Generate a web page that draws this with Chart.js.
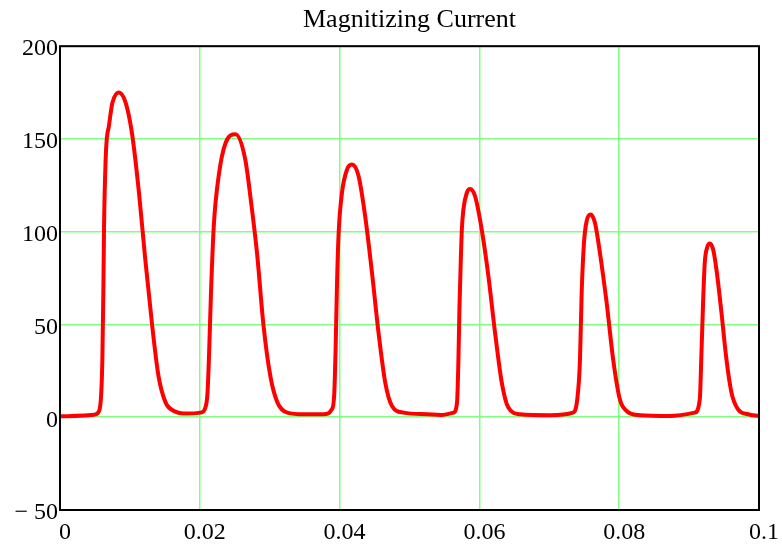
<!DOCTYPE html>
<html>
<head>
<meta charset="utf-8">
<script src="https://cdn.jsdelivr.net/npm/chart.js@4.4.1/dist/chart.umd.min.js"></script>
<style>
  html, body { margin: 0; padding: 0; background: #fff; }
  #wrap { width: 782px; height: 551px; }
</style>
</head>
<body>
<div id="wrap"><canvas id="chart" width="782" height="551"></canvas></div>
<script>
// time in seconds
const timeS = [
  0, 0.0049, 0.0056, 0.0059, 0.00606, 0.0062, 0.0063, 0.00653, 0.00669, 0.0070, 0.00725, 0.0075,
  0.0084, 0.0094, 0.0103, 0.0113, 0.0122, 0.0132, 0.0141, 0.0151, 0.0163, 0.0182, 0.0201, 0.0208,
  0.0211, 0.0213, 0.0216, 0.0220, 0.0227, 0.0237, 0.0251, 0.0265, 0.0273, 0.0282, 0.0291,
  0.0301, 0.0311, 0.0325, 0.0349, 0.0377, 0.0389,
  0.03924, 0.03943, 0.03963, 0.03986, 0.04034, 0.04106, 0.04177, 0.04271, 0.04367, 0.04463,
  0.04557, 0.04653, 0.04749, 0.04914, 0.0525, 0.0545, 0.0563, 0.0568,
  0.0570, 0.05714, 0.05734, 0.0575, 0.05771, 0.0582, 0.05867, 0.05939, 0.06034, 0.06129, 0.06224,
  0.0632, 0.06414, 0.0658, 0.0701, 0.0734, 0.0740,
  0.07439, 0.07463, 0.07496, 0.07534, 0.07591, 0.07653, 0.07724, 0.0782, 0.07914, 0.0801,
  0.08106, 0.08296, 0.08724, 0.09081, 0.09153,
  0.09177, 0.092, 0.09224, 0.09257, 0.09296, 0.09343, 0.09391, 0.09463, 0.09534, 0.09606,
  0.097, 0.09843, 0.1
];
// magnetizing current
const currentA = [
  0.5, 1.4, 3.4, 13, 31, 67, 103, 139, 150, 157, 164, 169.5,
  175, 169.5, 153, 121, 85, 49, 22, 8, 3.4, 2, 2.5, 5.2,
  13, 31, 67, 103, 130, 148, 152.5, 139, 117, 88, 50,
  22, 8, 2.5, 1.6, 1.6, 4.3,
  13, 37, 72, 99, 121, 133.5, 136.2, 130, 108, 78,
  45.6, 18.7, 6.1, 2.5, 1.6, 1.2, 2.5, 7.9,
  31, 58, 85, 102, 112, 121, 123, 119, 101, 76, 45.6,
  18.7, 5.2, 1.6, 1.1, 2.5, 9.7,
  31, 67, 94, 105.7, 109.3, 104.8, 88.7, 61.8, 31, 9.5,
  3.4, 1.1, 0.7, 2.5, 9.7,
  34.8, 61.8, 83.3, 91.4, 93.7, 90.5, 79.7, 56.4, 31.2, 13.3,
  4.3, 1.6, 0.7
];

const xTickValues = [0, 0.02, 0.04, 0.06, 0.08, 0.1];
const xTickLabels = ['0', '0.02', '0.04', '0.06', '0.08', '0.1'];
const yTickValues = [-50, 0, 50, 100, 150, 200];
const yTickLabels = ['\u2212 50', '0', '50', '100', '150', '200'];

const points = timeS.map((t, i) => ({ x: t, y: currentA[i] }));
const font = { family: '"Liberation Serif", "Times New Roman", serif', size: 24 };

const frame = {
  id: 'frame',
  afterDraw(chart) {
    const { ctx, chartArea: a } = chart;
    ctx.save();
    ctx.strokeStyle = '#000';
    ctx.lineWidth = 2;
    ctx.strokeRect(a.left, a.top, a.right - a.left, a.bottom - a.top);
    ctx.restore();
  },
};

new Chart(document.getElementById('chart'), {
  type: 'line',
  data: {
    datasets: [{
      data: points,
      borderColor: '#ff0000',
      borderWidth: 4,
      pointRadius: 0,
      cubicInterpolationMode: 'monotone',
      fill: false,
    }],
  },
  options: {
    responsive: false,
    animation: false,
    layout: { padding: { left: 0, right: 22, top: 0, bottom: 0 } },
    plugins: {
      legend: { display: false },
      tooltip: { enabled: false },
      title: {
        display: true,
        text: 'Magnitizing Current',
        fullSize: false,
        color: '#000',
        font: { ...font, size: 26, weight: 'normal' },
        padding: { top: 5, bottom: 10 },
      },
    },
    scales: {
      x: {
        type: 'linear',
        min: 0, max: 0.1,
        afterBuildTicks: (s) => { s.ticks = xTickValues.map(v => ({ value: v })); },
        afterFit: (s) => { s.height = 41; },
        grid: { color: '#80ff80', lineWidth: 1.5, drawTicks: false },
        border: { display: false },
        ticks: {
          font, color: '#000', padding: 8, labelOffset: 5, maxRotation: 0,
          callback: (v, i) => xTickLabels[i],
        },
      },
      y: {
        min: -50, max: 200,
        afterBuildTicks: (s) => { s.ticks = yTickValues.map(v => ({ value: v })); },
        afterFit: (s) => { s.width = 60; },
        grid: { color: '#80ff80', lineWidth: 1.5, drawTicks: false },
        border: { display: false },
        ticks: {
          font, color: '#000', padding: 2, labelOffset: 3,
          callback: (v, i) => yTickLabels[i],
        },
      },
    },
  },
  plugins: [frame],
});
</script>
</body>
</html>
